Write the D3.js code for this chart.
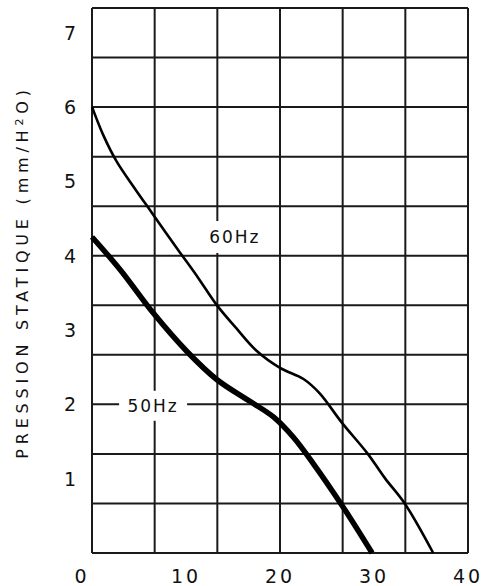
<!DOCTYPE html>
<html>
<head>
<meta charset="utf-8">
<script src="https://cdn.jsdelivr.net/npm/d3@7"></script>
<style>
  body { margin: 0; background: #fff; }
  svg { display: block; }
  text { font-family: "DejaVu Sans", sans-serif; fill: #111; }
</style>
</head>
<body>
<div id="chart"></div>
<script>
// debit (x) vs pression statique (y)
const hz60 = [
  [0, 6.0], [1.2, 5.62], [2.6, 5.27], [4.4, 4.93], [6.4, 4.57], [9.2, 4.07],
  [11.3, 3.70], [13.3, 3.33], [15.3, 3.03], [17.5, 2.72], [20.0, 2.49], [22.5, 2.34],
  [24.2, 2.15], [26.6, 1.75], [29.3, 1.34], [31.2, 1.0], [33.3, 0.66], [36.3, 0]
];
const hz50 = [
  [0, 4.25], [3.0, 3.81], [6.5, 3.23], [10.1, 2.71], [13.3, 2.33], [16.8, 2.04],
  [19.3, 1.83], [21.4, 1.56], [23.5, 1.21], [26.6, 0.64], [29.8, 0]
];
const xTicks = [0, 10, 20, 30, 40];
const yTicks = [1, 2, 3, 4, 5, 6, 7];
const xCols = 6;   // grid columns
const yRows = 11;  // grid rows
const yMax = 7.33;

const width = 482, height = 586;
const svg = d3.select('#chart').append('svg')
  .attr('width', width)
  .attr('height', height);

const x = d3.scaleLinear().domain([0, 40]).range([92, 468]);
const y = d3.scaleLinear().domain([0, yMax]).range([553, 8]);

// grid (not aligned with the ticks, as in the original)
const grid = svg.append('g').attr('stroke', '#1a1a1a').attr('stroke-width', 2);
grid.selectAll('line.v')
  .data(d3.range(xCols + 1).map(i => i * 40 / xCols))
  .enter().append('line')
  .attr('class', 'v')
  .attr('x1', d => x(d)).attr('x2', d => x(d))
  .attr('y1', y(yMax)).attr('y2', y(0));
grid.selectAll('line.h')
  .data(d3.range(yRows + 1).map(i => i * yMax / yRows))
  .enter().append('line')
  .attr('class', 'h')
  .attr('x1', x(0)).attr('x2', x(40))
  .attr('y1', d => y(d)).attr('y2', d => y(d));

// curves
const line = d3.line()
  .x(d => x(d[0]))
  .y(d => y(d[1]))
  .curve(d3.curveCatmullRom.alpha(0.5));

svg.append('path')
  .datum(hz60)
  .attr('d', line)
  .attr('fill', 'none')
  .attr('stroke', '#000')
  .attr('stroke-width', 2.6);

svg.append('path')
  .datum(hz50)
  .attr('d', line)
  .attr('fill', 'none')
  .attr('stroke', '#000')
  .attr('stroke-width', 5.5);

// curve labels with white box (breaks the grid lines)
function label(txt, dx, dy, bw, bh) {
  const g = svg.append('g');
  g.append('rect')
    .attr('x', x(dx) - bw / 2).attr('y', y(dy) - bh / 2)
    .attr('width', bw).attr('height', bh)
    .attr('fill', '#fff');
  g.append('text')
    .attr('x', x(dx)).attr('y', y(dy))
    .attr('text-anchor', 'middle')
    .attr('dominant-baseline', 'central')
    .attr('font-size', 17)
    .attr('letter-spacing', 2)
    .text(txt);
}
label('60Hz', 15.2, 4.25, 68, 32);
label('50Hz', 6.5, 1.98, 68, 30);

// x tick labels
svg.append('g').selectAll('text')
  .data(xTicks)
  .enter().append('text')
  .attr('x', (d, i) => x(d) - (i === 0 ? 10 : 0))
  .attr('y', 583)
  .attr('text-anchor', 'middle')
  .attr('font-size', 19)
  .attr('letter-spacing', 3)
  .text(d => d);

// y tick labels
svg.append('g').selectAll('text')
  .data(yTicks)
  .enter().append('text')
  .attr('x', 76)
  .attr('y', d => y(d))
  .attr('text-anchor', 'end')
  .attr('dominant-baseline', 'central')
  .attr('font-size', 19)
  .text(d => d);

// y axis title
const title = svg.append('text')
  .attr('transform', 'translate(28,272) rotate(-90)')
  .attr('text-anchor', 'middle')
  .attr('font-size', 16)
  .attr('letter-spacing', 4.8);
title.append('tspan').text('PRESSION  STATIQUE  (mm/H');
title.append('tspan').attr('font-size', 11).attr('dy', -5).text('2');
title.append('tspan').attr('dy', 5).text('O)');
</script>
</body>
</html>
